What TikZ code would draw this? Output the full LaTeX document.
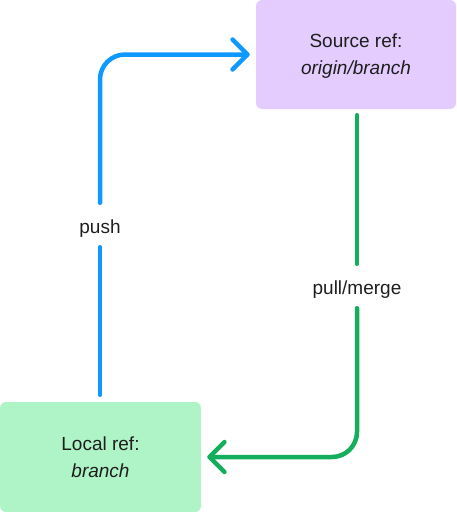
\documentclass[tikz,border=0pt]{standalone}
\usepackage{fontspec}
\setmainfont{Liberation Sans}
\usetikzlibrary{arrows.meta}
\definecolor{pushblue}{HTML}{0D99FF}
\definecolor{pullgreen}{HTML}{14AE5C}
\definecolor{srcfill}{HTML}{E4CCFF}
\definecolor{locfill}{HTML}{AFF4C6}
\definecolor{txt}{HTML}{1E1E1E}
\tikzset{
  refbox/.style={rectangle, rounded corners=6pt, draw=none, align=center,
    text=txt, font=\fontsize{19}{27}\selectfont, inner sep=0pt, text depth=-8pt},
  lbl/.style={inner sep=0pt, minimum height=44pt, text=txt,
    text height=18pt, text depth=2pt, font=\fontsize{19}{22}\selectfont},
  conn/.style={line width=4.5pt, line cap=round, line join=round},
  tip/.style={-{Straight Barb[length=15pt, width=30pt, round]}},
}
\begin{document}
\begin{tikzpicture}[x=1pt,y=-1pt]
\useasboundingbox (0,0) rectangle (457,512);
\node[refbox, fill=srcfill, minimum width=200pt, minimum height=109pt] (src) at (356,54.5)
  {Source ref:\\\textit{origin/branch}};
\node[refbox, fill=locfill, minimum width=201pt, minimum height=110pt] (loc) at (100.5,457)
  {Local ref:\\\textit{branch}};
\node[lbl] (push) at (100,225) {push};
\node[lbl] (pull) at (357,286) {pull/merge};
% push connector
\draw[conn, pushblue, shorten <=7pt] (push |- loc.north) -- (push.south);
\draw[conn, pushblue, tip, rounded corners=25pt, shorten >=6pt] (push.north) |- (src.west);
% pull connector
\draw[conn, pullgreen, shorten <=6pt] (pull |- src.south) -- (pull.north);
\draw[conn, pullgreen, tip, rounded corners=25pt, shorten >=6pt] (pull.south) |- (loc.east);
\end{tikzpicture}
\end{document}
